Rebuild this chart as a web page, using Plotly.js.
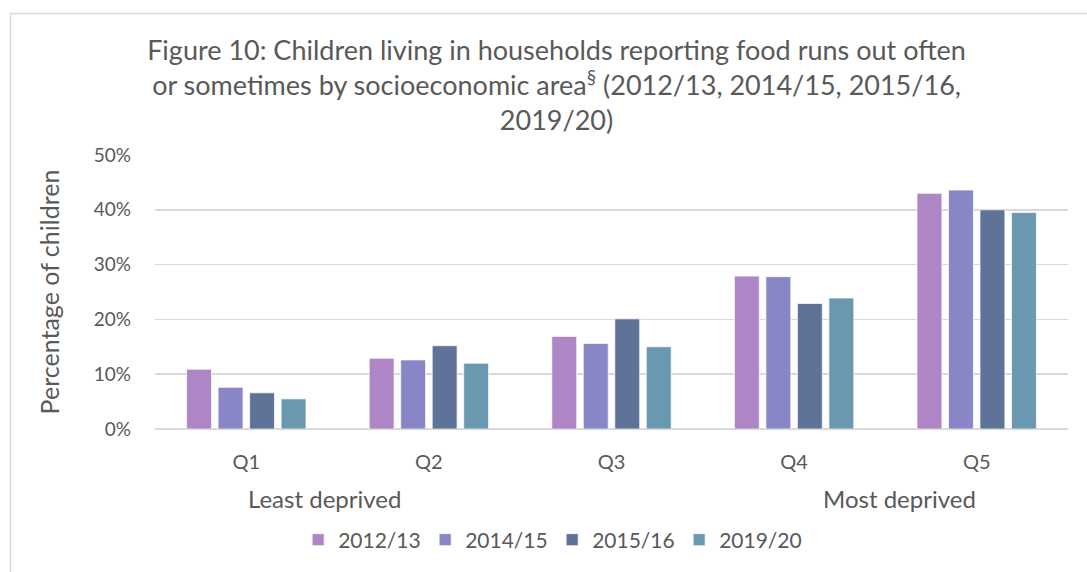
<!DOCTYPE html>
<html>
<head>
<meta charset="utf-8">
<script src="https://cdn.plot.ly/plotly-3.0.1.min.js"></script>
<style>
html,body{margin:0;padding:0;background:#fff;}
#chart{width:1087px;height:572px;}
</style>
</head>
<body>
<div id="chart"></div>
<script>
const categories = ["Q1", "Q2", "Q3", "Q4", "Q5"];
const seriesNames = ["2012/13", "2014/15", "2015/16", "2019/20"];
const v2012_13 = [10.9, 12.9, 16.9, 27.9, 43.0];
const v2014_15 = [7.6, 12.6, 15.6, 27.8, 43.6];
const v2015_16 = [6.6, 15.2, 20.1, 22.9, 40.0];
const v2019_20 = [5.5, 12.0, 15.0, 23.9, 39.5];
const seriesValues = [v2012_13, v2014_15, v2015_16, v2019_20];
const seriesColors = ["#AE85C5", "#8886C6", "#5F7399", "#6A98B0"];
const yTickVals = [0, 10, 20, 30, 40, 50];
const yTickText = ["0%", "10%", "20%", "30%", "40%", "50%"];

const FONT = "Lato, 'Open Sans', sans-serif";
const GREY = "#595959";

const traces = seriesNames.map((name, i) => ({
  type: "bar",
  name: name,
  x: categories,
  y: seriesValues[i],
  marker: {color: seriesColors[i], line: {color: "rgba(255,255,255,0.7)", width: 1}},
  hoverinfo: "x+y+name"
}));

const layout = {
  width: 1087, height: 572,
  margin: {l: 155, r: 19, t: 155, b: 143},
  paper_bgcolor: "#fff", plot_bgcolor: "#fff",
  font: {family: FONT, color: GREY, size: 16},
  title: {
    text: "Figure 10: Children living in households reporting food runs out often<br>or sometimes by socioeconomic area<sup>§</sup> (2012/13, 2014/15, 2015/16,<br>2019/20)",
    font: {family: FONT, size: 27, color: GREY},
    x: 0.512, xanchor: "center",
    y: 1 - 60/572, yanchor: "top"
  },
  barmode: "group",
  bargap: 0.31,
  bargroupgap: 0.21,
  xaxis: {
    showgrid: false, showline: false, zeroline: false,
    ticks: "", tickfont: {size: 20, color: GREY},
    ticklabelstandoff: 19
  },
  yaxis: {
    range: [0, 50], tickmode: "array", tickvals: yTickVals, ticktext: yTickText,
    showgrid: true, gridcolor: "#d9d9d9", gridwidth: 1.5,
    zeroline: true, zerolinecolor: "#d9d9d9", zerolinewidth: 1.5,
    showline: false, ticks: "",
    tickfont: {size: 19, color: GREY},
    ticklabelstandoff: 23,
    title: {text: "Percentage of children", font: {size: 25, color: GREY}, standoff: 26}
  },
  showlegend: true,
  legend: {
    orientation: "h", x: 0.435, xanchor: "center",
    y: (429 - 540) / 274, yanchor: "middle",
    font: {size: 21, color: GREY},
    traceorder: "normal",
    itemwidth: 30,
    entrywidth: 82, entrywidthmode: "pixels"
  },
  annotations: [
    {text: "Least deprived", xref: "paper", yref: "paper", x: (324 - 155) / 913, y: (429 - 498) / 274,
     xanchor: "center", yanchor: "middle", showarrow: false, font: {size: 24, color: GREY}},
    {text: "Most deprived", xref: "paper", yref: "paper", x: (899 - 155) / 913, y: (429 - 498) / 274,
     xanchor: "center", yanchor: "middle", showarrow: false, font: {size: 24, color: GREY}}
  ],
  shapes: [
    {type: "rect", xref: "paper", yref: "paper",
     x0: (10.5 - 155) / 913, x1: (1110 - 155) / 913,
     y0: (429 - 620) / 274, y1: (429 - 13.5) / 274,
     line: {color: "#d9d9d9", width: 1.5}, fillcolor: "rgba(0,0,0,0)", layer: "below"}
  ]
};

Plotly.newPlot("chart", traces, layout, {displayModeBar: false, staticPlot: true});
</script>
</body>
</html>
